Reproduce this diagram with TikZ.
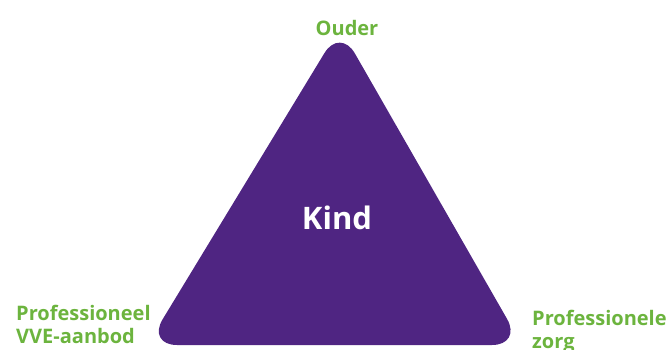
\documentclass[tikz,border=0pt]{standalone}
\usepackage{fontspec}
\setmainfont{Open Sans}
\usepackage{tikz}

\definecolor{kindpurple}{RGB}{79,37,130}
\definecolor{labelgreen}{RGB}{108,180,62}

\tikzset{
  corner/.style={text=labelgreen, font=\fontsize{20}{23}\selectfont\bfseries, inner sep=0pt, align=left},
  centre/.style={text=white, font=\fontsize{31}{36}\selectfont\bfseries, inner sep=0pt}
}

\begin{document}
\begin{tikzpicture}[x=1pt, y=-1pt]
  \useasboundingbox (0,0) rectangle (671,349);
  \fill[kindpurple, rounded corners=30pt] (340,27.5) -- (522,345) -- (147,345) -- cycle;
  \node[centre, anchor=base] (kind) at (337,229) {Kind};
  \node[corner, anchor=base] (ouder) at (347,35) {Ouder};
  \node[corner, anchor=base west] (vve) at (16,343) {Professioneel\\VVE-aanbod};
  \node[corner, anchor=base west] (zorg) at (532,348) {Professionele\\zorg};
\end{tikzpicture}
\end{document}
